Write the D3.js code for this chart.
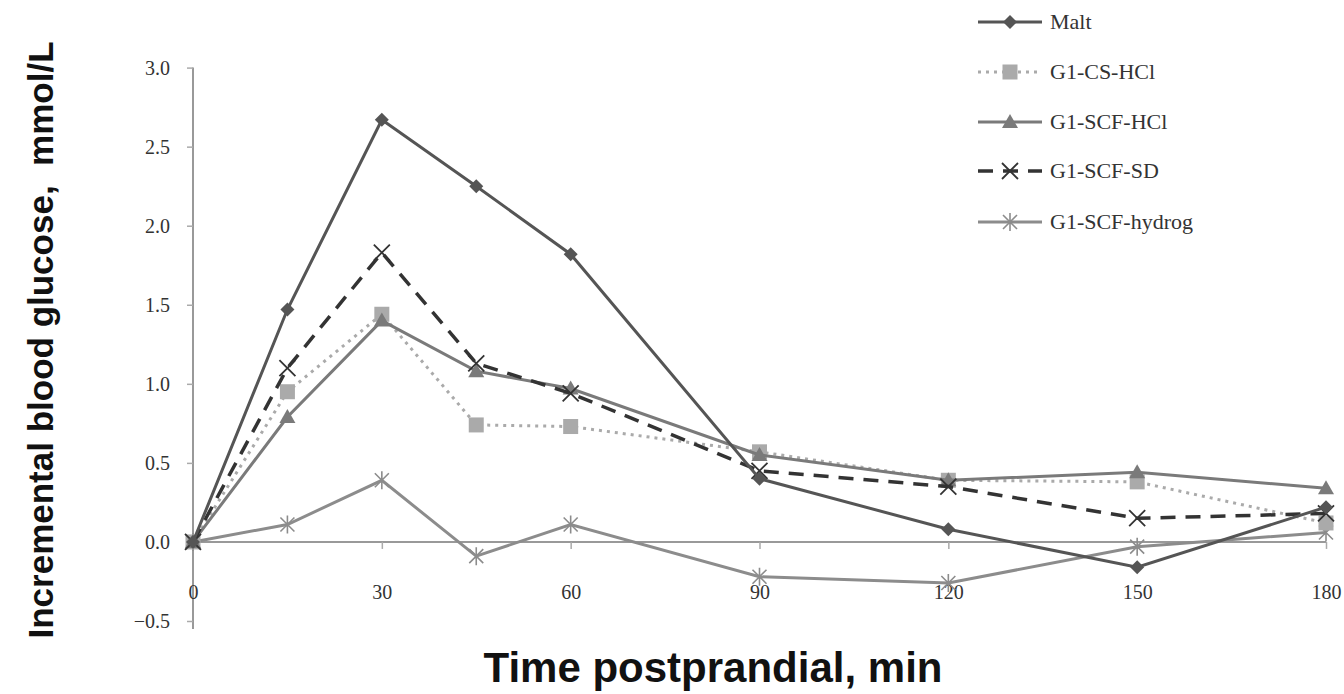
<!DOCTYPE html>
<html><head><meta charset="utf-8">
<script src="https://cdn.jsdelivr.net/npm/d3@7"></script>
<style>body{margin:0;background:#fff}svg{display:block}</style>
</head><body>
<svg id="c" width="1344" height="694"></svg>
<script>
const times = [0, 15, 30, 45, 60, 90, 120, 150, 180];
const xTicks = [0, 30, 60, 90, 120, 150, 180];
const yTicks = [-0.5, 0.0, 0.5, 1.0, 1.5, 2.0, 2.5, 3.0];
const seriesNames = ["Malt", "G1-CS-HCl", "G1-SCF-HCl", "G1-SCF-SD", "G1-SCF-hydrog"];
const malt   = [0, 1.47, 2.67, 2.25, 1.82, 0.40, 0.08, -0.16, 0.22];
const csHcl  = [0, 0.95, 1.44, 0.74, 0.73, 0.57, 0.39, 0.38, 0.12];
const scfHcl = [0, 0.79, 1.40, 1.08, 0.97, 0.55, 0.39, 0.44, 0.34];
const scfSd  = [0, 1.10, 1.83, 1.13, 0.94, 0.45, 0.35, 0.15, 0.18];
const hydrog = [0, 0.11, 0.39, -0.09, 0.11, -0.22, -0.26, -0.03, 0.06];

const styles = [
  {color:"#555", width:3, dash:null, marker:"diamond"},
  {color:"#aaa", width:3, dash:"3,5", marker:"square"},
  {color:"#7a7a7a", width:3, dash:null, marker:"triangle"},
  {color:"#333", width:3.5, dash:"15,10", marker:"x"},
  {color:"#8c8c8c", width:3, dash:null, marker:"asterisk"}
];
const data = [malt, csHcl, scfHcl, scfSd, hydrog];
const serif = "Liberation Serif, DejaVu Serif, serif";

const svg = d3.select("#c");
const x = d3.scaleLinear().domain([0,180]).range([193,1326]);
const y = d3.scaleLinear().domain([-0.5,3.0]).range([621,67.6]);

// y axis
const ya = svg.append("g").attr("transform","translate(193,0)")
  .call(d3.axisLeft(y).tickValues(yTicks).tickFormat(d3.format(".1f")).tickSize(6).tickPadding(17));
ya.select(".domain").attr("stroke","#999").attr("stroke-width",2).attr("d","M0,"+y(3.0)+"V"+(y(-0.5)+8));
ya.selectAll(".tick line").attr("stroke","#aaa").attr("stroke-width",1.5);
ya.selectAll(".tick text").attr("fill","#333").style("font-family",serif).style("font-size","20px");

// x axis at zero
const xa = svg.append("g").attr("transform","translate(0,"+y(0)+")")
  .call(d3.axisBottom(x).tickValues(xTicks).tickSize(7).tickPadding(36));
xa.select(".domain").attr("stroke","#999").attr("stroke-width",2).attr("d","M"+x(0)+",0H"+x(180));
xa.selectAll(".tick line").attr("stroke","#aaa").attr("stroke-width",1.5);
xa.selectAll(".tick text").attr("fill","#333").style("font-family",serif).style("font-size","20px");

// axis titles
svg.append("text").attr("x",713).attr("y",682).attr("text-anchor","middle")
  .style("font-family","Liberation Sans, Arial, sans-serif").style("font-weight","bold").style("font-size","42px").attr("fill","#111")
  .text("Time postprandial, min");
svg.append("text").attr("transform","translate(53,340) rotate(-90)").attr("text-anchor","middle")
  .style("font-family","Liberation Sans, Arial, sans-serif").style("font-weight","bold").style("font-size","35px").attr("fill","#111")
  .attr("xml:space","preserve")
  .text("Incremental blood glucose,  mmol/L");

function drawMarker(g, type, cx, cy, color){
  if(type==="diamond"){
    g.append("path").attr("d",`M${cx},${cy-7}L${cx+7},${cy}L${cx},${cy+7}L${cx-7},${cy}Z`).attr("fill",color);
  } else if(type==="square"){
    g.append("rect").attr("x",cx-7.5).attr("y",cy-7.5).attr("width",15).attr("height",15).attr("fill",color);
  } else if(type==="triangle"){
    g.append("path").attr("d",`M${cx},${cy-8}L${cx+8},${cy+6}L${cx-8},${cy+6}Z`).attr("fill",color);
  } else if(type==="x"){
    g.append("path").attr("d",`M${cx-8},${cy-8}L${cx+8},${cy+8}M${cx+8},${cy-8}L${cx-8},${cy+8}`).attr("stroke",color).attr("stroke-width",1.8);
  } else if(type==="asterisk"){
    g.append("path").attr("d",`M${cx-7},${cy-7}L${cx+7},${cy+7}M${cx+7},${cy-7}L${cx-7},${cy+7}M${cx},${cy-9}V${cy+9}`).attr("stroke",color).attr("stroke-width",1.6);
  }
}

const line = d3.line().x((d,i)=>x(times[i])).y(d=>y(d));
[4,1,2,3,0].forEach(k=>{
  const s = styles[k];
  const g = svg.append("g");
  g.append("path").datum(data[k]).attr("d",line).attr("fill","none")
    .attr("stroke",s.color).attr("stroke-width",s.width).attr("stroke-dasharray",s.dash);
  data[k].forEach((v,i)=>drawMarker(g, s.marker, x(times[i]), y(v), s.color));
});

// legend
const legY = [22, 72, 122, 171, 222];
seriesNames.forEach((name,k)=>{
  const s = styles[k];
  const g = svg.append("g");
  g.append("line").attr("x1",978).attr("x2",1042).attr("y1",legY[k]).attr("y2",legY[k])
    .attr("stroke",s.color).attr("stroke-width",s.width).attr("stroke-dasharray",s.dash);
  drawMarker(g, s.marker, 1010, legY[k], s.color);
  g.append("text").attr("x",1050).attr("y",legY[k]+7).text(name)
    .style("font-family",serif).style("font-size","22px").attr("fill","#333");
});
</script>
</body></html>
